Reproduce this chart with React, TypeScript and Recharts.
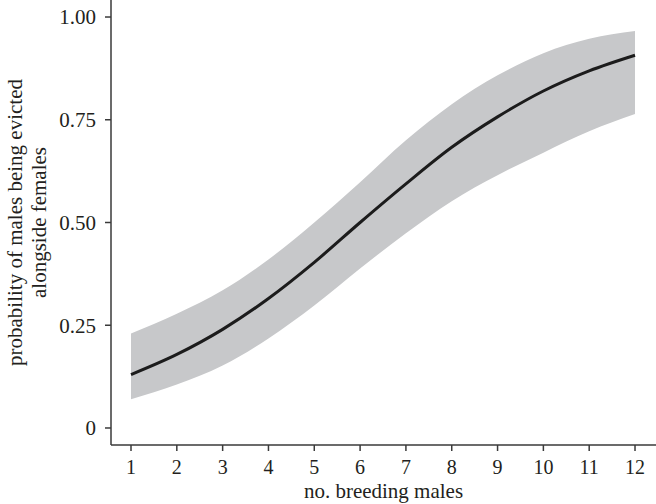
import React from "react"
import { ComposedChart, Area, Line, XAxis, YAxis, Label } from "recharts"

// values
const breedingMales = [1, 2, 3, 4, 5, 6, 7, 8, 9, 10, 11, 12]
const fitted = [0.13, 0.179, 0.24, 0.315, 0.403, 0.5, 0.594, 0.683, 0.757, 0.82, 0.869, 0.907]
const lowerCI = [0.07, 0.106, 0.152, 0.218, 0.298, 0.388, 0.474, 0.552, 0.615, 0.67, 0.722, 0.764]
const upperCI = [0.23, 0.278, 0.335, 0.41, 0.5, 0.598, 0.7, 0.788, 0.858, 0.912, 0.947, 0.966]

const xTicks = [1, 2, 3, 4, 5, 6, 7, 8, 9, 10, 11, 12]
const yTicks = [0, 0.25, 0.5, 0.75, 1]

const chartData = breedingMales.map((x, i) => ({
  x,
  fit: fitted[i],
  band: [lowerCI[i], upperCI[i]],
}))

const FONT = "Liberation Serif"
const INK = "#231f20"
const AXIS = "#3a3a3a"

const YTitle = (props: any) => {
  const vb = props.viewBox || { x: 0, y: 0, width: 0, height: 0 }
  const cy = vb.y + vb.height / 2
  return (
    <g fontFamily={FONT} fontSize={21} fill={INK}>
      <text transform={`translate(${vb.x + 22}, ${cy}) rotate(-90)`} textAnchor="middle">
        probability of males being evicted
      </text>
      <text transform={`translate(${vb.x + 46}, ${cy}) rotate(-90)`} textAnchor="middle">
        alongside females
      </text>
    </g>
  )
}

const formatY = (v: number) => (v === 0 ? "0" : v.toFixed(2))

export default function App() {
  return (
    <div style={{ position: "absolute", top: 0, left: 0, background: "#fff" }}>
      <ComposedChart width={656} height={504} data={chartData} margin={{ top: 0, right: 0, bottom: 0, left: 0 }}>
        <XAxis
          type="number"
          dataKey="x"
          domain={[0.5635, 12.458]}
          allowDataOverflow
          ticks={xTicks}
          height={59}
          tickSize={6}
          tickMargin={9}
          axisLine={{ stroke: AXIS, strokeWidth: 1.5 }}
          tickLine={{ stroke: AXIS, strokeWidth: 1.5 }}
          tick={{ fill: INK, fontSize: 20, fontFamily: FONT }}
        >
          <Label
            value="no. breeding males"
            position="insideBottom"
            offset={6}
            style={{ fill: INK, fontSize: 21, fontFamily: FONT }}
          />
        </XAxis>
        <YAxis
          type="number"
          domain={[-0.0414, 1.0414]}
          allowDataOverflow
          ticks={yTicks}
          tickFormatter={formatY}
          width={111}
          tickSize={6}
          tickMargin={9}
          axisLine={{ stroke: AXIS, strokeWidth: 1.5 }}
          tickLine={{ stroke: AXIS, strokeWidth: 1.5 }}
          tick={{ fill: INK, fontSize: 21, fontFamily: FONT }}
        >
          <Label content={YTitle} />
        </YAxis>
        <Area
          type="monotone"
          dataKey="band"
          stroke="none"
          fill="#c7c8ca"
          fillOpacity={1}
          isAnimationActive={false}
        />
        <Line
          type="monotone"
          dataKey="fit"
          stroke="#1c1c1c"
          strokeWidth={3}
          dot={false}
          isAnimationActive={false}
        />
      </ComposedChart>
    </div>
  )
}
